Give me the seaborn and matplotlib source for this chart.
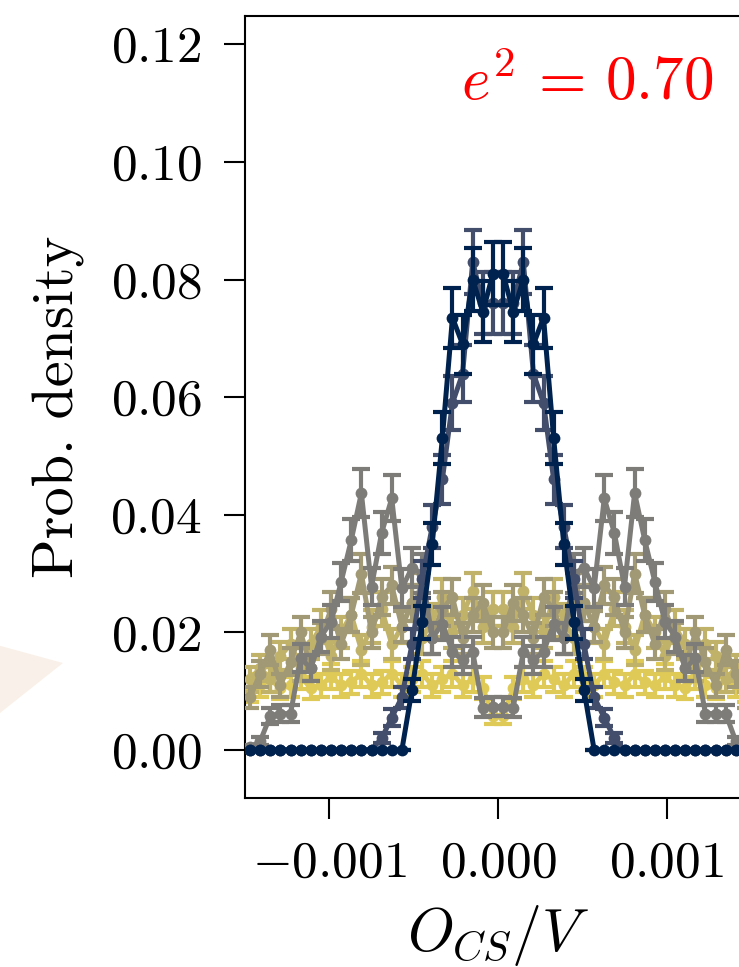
import numpy as np
import matplotlib
matplotlib.use("Agg")
import matplotlib.pyplot as plt
import seaborn as sns
from matplotlib.patches import Polygon
from matplotlib.ticker import FuncFormatter, FixedLocator

sns.set_theme(style="ticks")
plt.rcParams.update({
    "font.family": "serif",
    "font.serif": ["cmr10"],
    "mathtext.fontset": "cm",
    "axes.formatter.use_mathtext": True,
    "axes.unicode_minus": True,
})

# ---------------- data ----------------
bin_centers = [
    -0.00147, -0.00141, -0.00135, -0.00129, -0.00123, -0.00117, -0.00111, -0.00105, -0.00099, -0.00093,
    -0.00087, -0.00081, -0.00075, -0.00069, -0.00063, -0.00057, -0.00051, -0.00045, -0.00039, -0.00033,
    -0.00027, -0.00021, -0.00015, -0.00009, -0.00003, 0.00003, 0.00009, 0.00015, 0.00021, 0.00027,
    0.00033, 0.00039, 0.00045, 0.00051, 0.00057, 0.00063, 0.00069, 0.00075, 0.00081, 0.00087,
    0.00093, 0.00099, 0.00105, 0.00111, 0.00117, 0.00123, 0.00129, 0.00135, 0.00141, 0.00147,
]

p_navy = [
    0, 0, 0, 0, 0, 0, 0, 0, 0, 0,
    0, 0, 0, 0, 0, 0, 0.0102, 0.0217, 0.035, 0.053,
    0.0735, 0.069, 0.080, 0.0745, 0.081, 0.081, 0.0745, 0.080, 0.069, 0.0735,
    0.053, 0.035, 0.0217, 0.0102, 0, 0, 0, 0, 0, 0,
    0, 0, 0, 0, 0, 0, 0, 0, 0, 0,
]
e_navy = [
    0, 0, 0, 0, 0, 0, 0, 0, 0, 0,
    0, 0, 0, 0, 0, 0, 0.0019, 0.0028, 0.0036, 0.0044,
    0.0051, 0.0050, 0.0054, 0.0052, 0.0054, 0.0054, 0.0052, 0.0054, 0.0050, 0.0051,
    0.0044, 0.0036, 0.0028, 0.0019, 0, 0, 0, 0, 0, 0,
    0, 0, 0, 0, 0, 0, 0, 0, 0, 0,
]

p_slate = [
    0, 0, 0, 0, 0, 0, 0, 0, 0, 0,
    0, 0, 0, 0.002, 0.0055, 0.009, 0.018, 0.029, 0.038, 0.046,
    0.059, 0.064, 0.083, 0.076, 0.076, 0.076, 0.076, 0.083, 0.064, 0.059,
    0.046, 0.038, 0.029, 0.018, 0.009, 0.0055, 0.002, 0, 0, 0,
    0, 0, 0, 0, 0, 0, 0, 0, 0, 0,
]
e_slate = [
    0, 0, 0, 0, 0, 0, 0, 0, 0, 0,
    0, 0, 0, 0.00085, 0.0014, 0.0018, 0.0025, 0.0032, 0.0037, 0.0041,
    0.0046, 0.0048, 0.0055, 0.0052, 0.0052, 0.0052, 0.0052, 0.0055, 0.0048, 0.0046,
    0.0041, 0.0037, 0.0032, 0.0025, 0.0018, 0.0014, 0.00085, 0, 0, 0,
    0, 0, 0, 0, 0, 0, 0, 0, 0, 0,
]

p_gray = [
    0.0005, 0.0015, 0.0058, 0.0062, 0.0062, 0.0156, 0.0139, 0.0193, 0.0218, 0.0286,
    0.0357, 0.0437, 0.0278, 0.0369, 0.0428, 0.0275, 0.031, 0.030, 0.019, 0.0215,
    0.0167, 0.0153, 0.0167, 0.0072, 0.0074, 0.0074, 0.0072, 0.0167, 0.0153, 0.0167,
    0.0215, 0.019, 0.030, 0.031, 0.0275, 0.0428, 0.0369, 0.0278, 0.0437, 0.0357,
    0.0286, 0.0218, 0.0193, 0.0139, 0.0156, 0.0062, 0.0062, 0.0062, 0.0015, 0.0005,
]
e_gray = [
    0.0004, 0.0007, 0.0014, 0.0015, 0.0015, 0.0024, 0.0022, 0.0026, 0.0028, 0.0032,
    0.0036, 0.0040, 0.0032, 0.0036, 0.0039, 0.0032, 0.0033, 0.0033, 0.0026, 0.0028,
    0.0025, 0.0024, 0.0025, 0.0016, 0.0016, 0.0016, 0.0016, 0.0025, 0.0024, 0.0025,
    0.0028, 0.0026, 0.0033, 0.0033, 0.0032, 0.0039, 0.0036, 0.0032, 0.0040, 0.0036,
    0.0032, 0.0028, 0.0026, 0.0022, 0.0024, 0.0015, 0.0015, 0.0015, 0.0007, 0.0004,
]

p_tan = [
    0.009, 0.013, 0.017, 0.011, 0.015, 0.020, 0.014, 0.019, 0.024, 0.018,
    0.023, 0.030, 0.020, 0.026, 0.028, 0.021, 0.025, 0.027, 0.019, 0.024,
    0.026, 0.019, 0.023, 0.025, 0.020, 0.020, 0.025, 0.023, 0.019, 0.026,
    0.024, 0.019, 0.027, 0.025, 0.021, 0.028, 0.026, 0.020, 0.030, 0.023,
    0.018, 0.024, 0.019, 0.014, 0.020, 0.015, 0.011, 0.017, 0.013, 0.009,
]
e_tan = [
    0.0018, 0.0022, 0.0025, 0.0020, 0.0023, 0.0027, 0.0022, 0.0026, 0.0029, 0.0025,
    0.0029, 0.0033, 0.0027, 0.0031, 0.0032, 0.0027, 0.0030, 0.0031, 0.0026, 0.0029,
    0.0031, 0.0026, 0.0029, 0.0030, 0.0027, 0.0027, 0.0030, 0.0029, 0.0026, 0.0031,
    0.0029, 0.0026, 0.0031, 0.0030, 0.0027, 0.0032, 0.0031, 0.0027, 0.0033, 0.0029,
    0.0025, 0.0029, 0.0026, 0.0022, 0.0027, 0.0023, 0.0020, 0.0025, 0.0022, 0.0018,
]

p_khaki = [
    0.012, 0.014, 0.012, 0.016, 0.018, 0.014, 0.018, 0.021, 0.016, 0.020,
    0.023, 0.017, 0.021, 0.024, 0.018, 0.021, 0.025, 0.019, 0.022, 0.026,
    0.020, 0.023, 0.027, 0.021, 0.024, 0.024, 0.021, 0.027, 0.023, 0.020,
    0.026, 0.022, 0.019, 0.025, 0.021, 0.018, 0.024, 0.021, 0.017, 0.023,
    0.020, 0.016, 0.021, 0.018, 0.014, 0.018, 0.016, 0.012, 0.014, 0.012,
]
e_khaki = [
    0.0021, 0.0022, 0.0021, 0.0024, 0.0025, 0.0022, 0.0025, 0.0028, 0.0024, 0.0027,
    0.0029, 0.0025, 0.0028, 0.0029, 0.0025, 0.0028, 0.0030, 0.0026, 0.0028, 0.0031,
    0.0027, 0.0029, 0.0031, 0.0028, 0.0029, 0.0029, 0.0028, 0.0031, 0.0029, 0.0027,
    0.0031, 0.0028, 0.0026, 0.0030, 0.0028, 0.0025, 0.0029, 0.0028, 0.0025, 0.0029,
    0.0027, 0.0024, 0.0028, 0.0025, 0.0022, 0.0025, 0.0024, 0.0021, 0.0022, 0.0021,
]

p_yellow = [
    0.010, 0.011, 0.012, 0.0105, 0.011, 0.0125, 0.0105, 0.011, 0.0125, 0.011,
    0.0115, 0.013, 0.011, 0.0115, 0.013, 0.011, 0.012, 0.013, 0.011, 0.012,
    0.013, 0.011, 0.012, 0.0105, 0.0058, 0.0058, 0.0105, 0.012, 0.011, 0.013,
    0.012, 0.011, 0.013, 0.012, 0.011, 0.013, 0.0115, 0.011, 0.013, 0.0115,
    0.011, 0.0125, 0.011, 0.0105, 0.0125, 0.011, 0.0105, 0.012, 0.011, 0.010,
]
e_yellow = [
    0.0019, 0.0020, 0.0021, 0.0019, 0.0020, 0.0021, 0.0019, 0.0020, 0.0021, 0.0020,
    0.0020, 0.0022, 0.0020, 0.0020, 0.0022, 0.0020, 0.0021, 0.0022, 0.0020, 0.0021,
    0.0022, 0.0020, 0.0021, 0.0019, 0.0014, 0.0014, 0.0019, 0.0021, 0.0020, 0.0022,
    0.0021, 0.0020, 0.0022, 0.0021, 0.0020, 0.0022, 0.0020, 0.0020, 0.0022, 0.0020,
    0.0020, 0.0021, 0.0020, 0.0019, 0.0021, 0.0020, 0.0019, 0.0021, 0.0020, 0.0019,
]

series_values = [p_navy, p_slate, p_gray, p_tan, p_khaki, p_yellow]
series_errors = [e_navy, e_slate, e_gray, e_tan, e_khaki, e_yellow]
cmap_positions = [0.0, 0.25, 0.5, 0.65, 0.77, 0.88]

y_ticks = [0.00, 0.02, 0.04, 0.06, 0.08, 0.10, 0.12]
x_ticks = [-0.001, 0.000, 0.001]
annotation = r"$e^2\,=\,0.70$"

# ---------------- figure ----------------
W, H = 739, 967
fig = plt.figure(figsize=(W / 100, H / 100), dpi=100)
ax_l, ax_r, ax_t, ax_b = 245, 751, 16, 797.7
ax = fig.add_axes([ax_l / W, 1 - ax_b / H, (ax_r - ax_l) / W, (ax_b - ax_t) / H])

cmap = plt.get_cmap("cividis")
colors = [cmap(c) for c in cmap_positions]

# draw lightest first so the dark series sits on top
order = list(range(len(series_values)))[::-1]
for z, i in enumerate(order):
    col = colors[i]
    sns.lineplot(x=bin_centers, y=series_values[i], ax=ax, color=col, lw=3.6,
                 marker="o", markersize=8.5, markeredgecolor=col, markeredgewidth=0,
                 zorder=3 + 2 * z, legend=False, errorbar=None, sort=False)
    ax.errorbar(bin_centers, series_values[i], yerr=series_errors[i], fmt="none",
                ecolor=col, elinewidth=3.0, capsize=6.5, capthick=3.0, zorder=2 + 2 * z)

ax.set_xlim(-0.0015, 0.0015)
ax.set_ylim(-0.0081, 0.1248)
ax.xaxis.set_major_locator(FixedLocator(x_ticks))
ax.yaxis.set_major_locator(FixedLocator(y_ticks))
ax.xaxis.set_major_formatter(FuncFormatter(lambda v, p: f"${v:.3f}$" if abs(v) > 1e-12 else "$0.000$"))
ax.yaxis.set_major_formatter(FuncFormatter(lambda v, p: f"${v:.2f}$"))
ax.tick_params(axis="both", which="major", labelsize=37, length=15, width=1.5,
               pad=16, direction="out", color="black", labelcolor="black")
for s in ax.spines.values():
    s.set_linewidth(1.5)
    s.set_color("black")

ax.set_xlabel(r"$O_{CS}/V$", fontsize=43, labelpad=12, color="black")
ax.set_ylabel("Prob. density", fontsize=42, labelpad=18, color="black")

ax.text(0.925, 0.892, annotation, transform=ax.transAxes, ha="right", va="baseline",
        fontsize=44, color="#ff0000")

# faint arrow-head fragment at the left edge
tri = Polygon([(-10 / W, 1 - 643 / H), (63 / W, 1 - 663 / H), (-10 / W, 1 - 721 / H)],
              closed=True, transform=fig.transFigure, facecolor="#f9f1e9",
              edgecolor="none", zorder=0)
fig.patches.append(tri)

fig.savefig("out.png", dpi=100)
